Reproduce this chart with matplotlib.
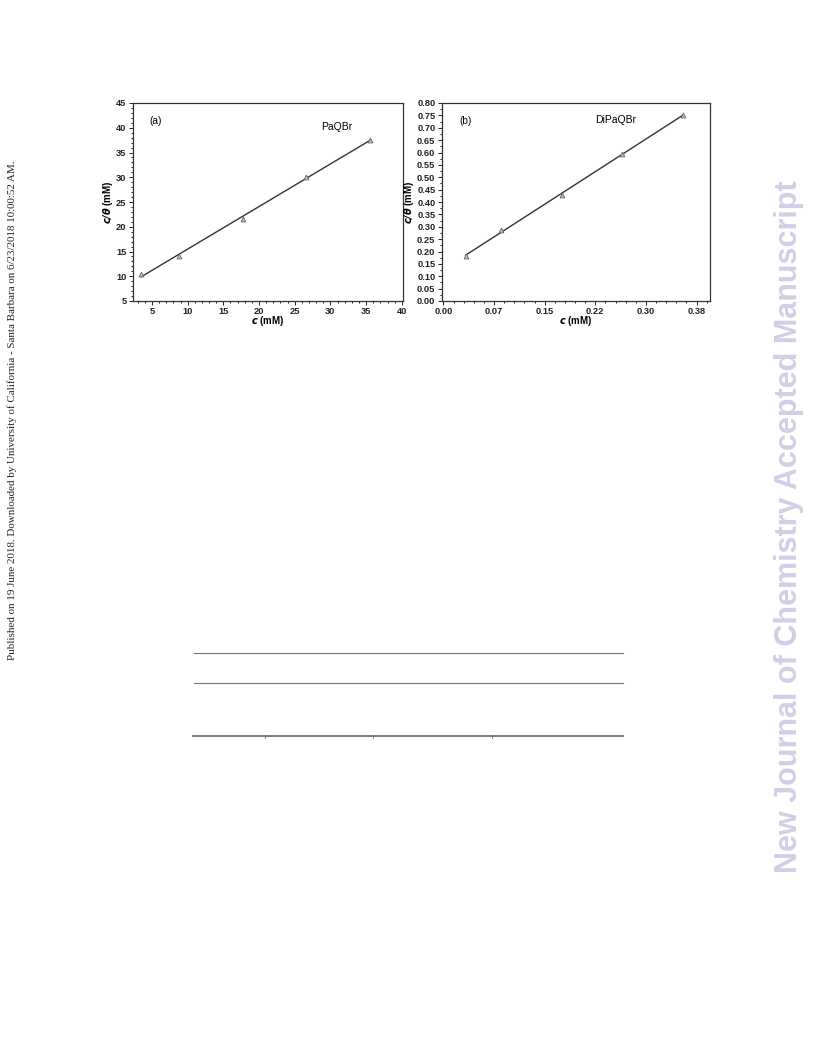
import numpy as np
import matplotlib
matplotlib.use("Agg")
import matplotlib.pyplot as plt
from matplotlib.ticker import MultipleLocator, FixedLocator

# datos
c_a = [3.5, 8.8, 17.7, 26.6, 35.6]
ctheta_a = [10.4, 14.1, 21.6, 30.0, 37.6]
c_b = [0.033, 0.085, 0.175, 0.265, 0.355]
ctheta_b = [0.18, 0.285, 0.43, 0.595, 0.75]
xticks_b = [0.0, 0.075, 0.15, 0.225, 0.30, 0.375]
xticklabels_b = ["0.00", "0.07", "0.15", "0.22", "0.30", "0.38"]

W, H = 816, 1056
fig = plt.figure(figsize=(W / 100, H / 100), dpi=100)
plt.rcParams["font.family"] = ["Liberation Sans", "DejaVu Sans"]


def caja(x0, y0, x1, y1):
    # coordenadas en pixeles (origen arriba-izquierda) -> fraccion de figura
    return [x0 / W, 1 - y1 / H, (x1 - x0) / W, (y1 - y0) / H]


def estilo(ax):
    for sp in ax.spines.values():
        sp.set_linewidth(0.9)
        sp.set_color("#333333")
    ax.tick_params(which="both", direction="out", top=False, right=False,
                   labelsize=6.7, width=0.7, colors="#222222", pad=1.5)
    ax.tick_params(which="major", length=3)
    ax.tick_params(which="minor", length=1.6)
    for lab in ax.get_xticklabels() + ax.get_yticklabels():
        lab.set_fontweight("bold")


def ajuste(ax, x, y):
    p = np.polyfit(x, y, 1)
    xx = np.array([min(x), max(x)])
    ax.plot(xx, np.polyval(p, xx), color="#333333", lw=1.0)
    ax.plot(x, y, linestyle="none", marker="^", ms=3.5, mfc="#bbbbbb",
            mec="#666666", mew=0.6)


# panel (a)
ax1 = fig.add_axes(caja(132.7, 103, 402.5, 301))
ajuste(ax1, c_a, ctheta_a)
ax1.set_xlim(2.3, 40.1)
ax1.set_ylim(5, 45)
ax1.xaxis.set_major_locator(MultipleLocator(5))
ax1.xaxis.set_minor_locator(MultipleLocator(1))
ax1.yaxis.set_major_locator(MultipleLocator(5))
ax1.yaxis.set_minor_locator(MultipleLocator(1))
estilo(ax1)
ax1.set_xlabel(r"$\mathbfit{c}$ (mM)", fontsize=7, fontweight="bold", labelpad=-1.5)
ax1.set_ylabel(r"$\mathbfit{c/\theta}$ (mM)", fontsize=7, fontweight="bold", labelpad=1)
ax1.text(0.06, 0.91, "(a)", transform=ax1.transAxes, fontsize=7.3, va="center")
ax1.text(0.70, 0.88, "PaQBr", transform=ax1.transAxes, fontsize=7.5, va="center")

# panel (b)
ax2 = fig.add_axes(caja(441.7, 103, 710, 301))
ajuste(ax2, c_b, ctheta_b)
ax2.set_xlim(-0.0025, 0.395)
ax2.set_ylim(0, 0.8)
ax2.xaxis.set_major_locator(FixedLocator(xticks_b))
ax2.set_xticklabels(xticklabels_b)
ax2.xaxis.set_minor_locator(MultipleLocator(0.015))
ax2.yaxis.set_major_locator(MultipleLocator(0.05))
ax2.yaxis.set_minor_locator(MultipleLocator(0.025))
estilo(ax2)
ax2.set_xlabel(r"$\mathbfit{c}$ (mM)", fontsize=7, fontweight="bold", labelpad=-1.5)
ax2.set_ylabel(r"$\mathbfit{c/\theta}$ (mM)", fontsize=7, fontweight="bold", labelpad=1)
ax2.text(0.065, 0.91, "(b)", transform=ax2.transAxes, fontsize=7.3, va="center")
ax2.text(0.57, 0.915, "DiPaQBr", transform=ax2.transAxes, fontsize=7.5, va="center")

# lineas de tabla
fig.add_artist(plt.Line2D([194 / W, 623 / W], [1 - 653.3 / H] * 2, color="#777777", lw=0.8))
fig.add_artist(plt.Line2D([194 / W, 623 / W], [1 - 683.3 / H] * 2, color="#777777", lw=0.8))
fig.add_artist(plt.Line2D([193 / W, 623 / W], [1 - 735.7 / H] * 2, color="#666666", lw=1.2))
for xv in [265, 373, 492]:
    fig.add_artist(plt.Line2D([xv / W] * 2, [1 - 734.5 / H, 1 - 737.5 / H], color="#666666", lw=0.6))

# textos de margen
fig.text(12 / W, 1 - 410 / H,
         "Published on 19 June 2018. Downloaded by University of California - Santa Barbara on 6/23/2018 10:00:52 AM.",
         rotation=90, ha="center", va="center", fontsize=7.9,
         family=["Liberation Serif", "DejaVu Serif"], color="#222222")
fig.text(789 / W, 1 - 527 / H, "New Journal of Chemistry Accepted Manuscript",
         rotation=90, ha="center", va="center", fontsize=22, fontweight="bold",
         color="#cfcfe6")

fig.savefig("out.png", dpi=100)
